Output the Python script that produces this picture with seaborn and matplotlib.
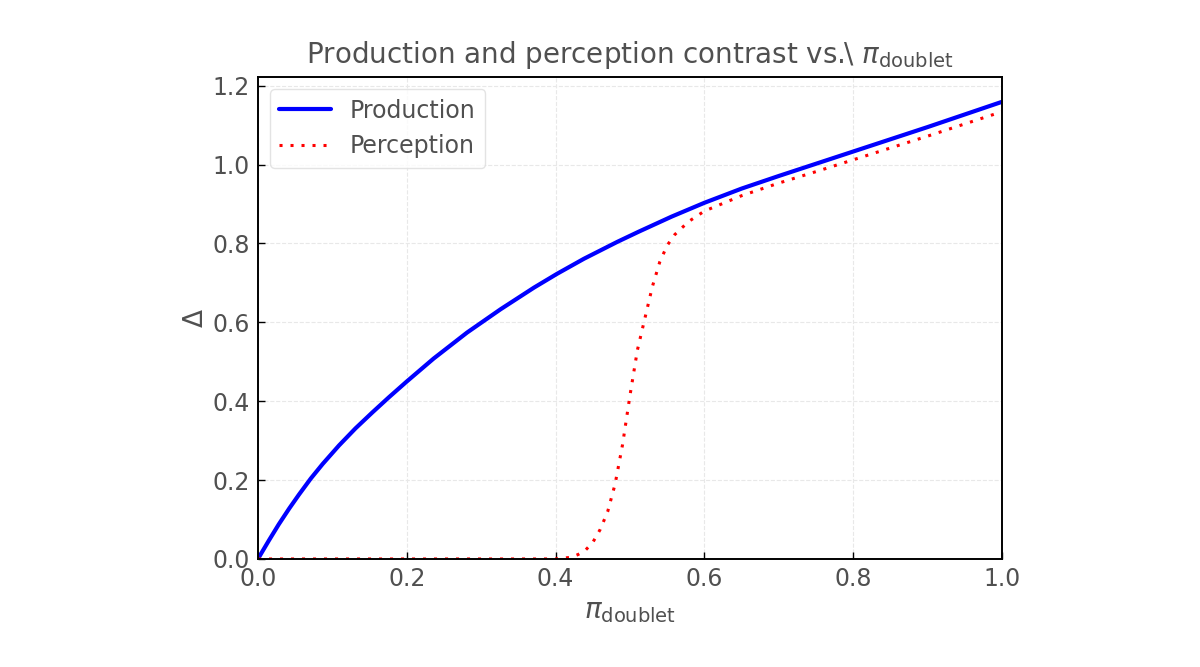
import numpy as np
import pandas as pd
import seaborn as sns
import matplotlib
matplotlib.use("Agg")
from matplotlib import pyplot as plt

# values
prod_x = [0.0, 0.004, 0.015, 0.028, 0.042, 0.055, 0.071, 0.087, 0.109, 0.131, 0.154,
          0.176, 0.2, 0.236, 0.281, 0.326, 0.371, 0.402, 0.438, 0.483, 0.512, 0.556,
          0.6, 0.65, 0.7, 0.75, 0.8, 0.85, 0.9, 0.95, 1.0]
prod_y = [0.0, 0.013, 0.048, 0.088, 0.128, 0.163, 0.204, 0.241, 0.288, 0.331, 0.372,
          0.410, 0.450, 0.508, 0.574, 0.633, 0.688, 0.723, 0.761, 0.804, 0.830, 0.868,
          0.903, 0.939, 0.971, 1.002, 1.033, 1.064, 1.095, 1.127, 1.159]

perc_x = [0.0, 0.1, 0.2, 0.3, 0.4, 0.42, 0.43, 0.44, 0.45, 0.46, 0.47, 0.48, 0.49,
          0.50, 0.51, 0.52, 0.53, 0.54, 0.55, 0.56, 0.57, 0.58, 0.60, 0.65, 0.70,
          0.75, 0.80, 0.85, 0.90, 0.95, 1.0]
perc_y = [0.0, 0.0, 0.0, 0.0, 0.0, 0.004, 0.011, 0.022, 0.042, 0.075, 0.12, 0.19, 0.29,
          0.415, 0.53, 0.61, 0.69, 0.753, 0.795, 0.822, 0.840, 0.857, 0.882, 0.921, 0.953,
          0.982, 1.012, 1.042, 1.072, 1.103, 1.134]

x_ticks = [0.0, 0.2, 0.4, 0.6, 0.8, 1.0]
y_ticks = [0.0, 0.2, 0.4, 0.6, 0.8, 1.0, 1.2]

prod = pd.DataFrame({"pi": prod_x, "delta": prod_y})
perc = pd.DataFrame({"pi": perc_x, "delta": perc_y})

sns.set_theme(style="whitegrid")
plt.rcParams["font.family"] = ["DejaVu Sans"]
text_grey = "#505050"

fig, ax = plt.subplots(figsize=(12, 6.67), dpi=100)
fig.subplots_adjust(left=0.215, right=0.835, top=0.884, bottom=0.162)

sns.lineplot(data=prod, x="pi", y="delta", ax=ax, color="blue", lw=3.0,
             label="Production")
sns.lineplot(data=perc, x="pi", y="delta", ax=ax, color="red", lw=2.2,
             dashes=False, label="Perception")
ax.lines[1].set_dashes((1, 2.6))

ax.set_xlim(0, 1)
ax.set_ylim(0, 1.221)
ax.set_xticks(x_ticks)
ax.set_yticks(y_ticks)
ax.set_xlabel(r"$\pi_{\mathrm{doublet}}$", fontsize=20, color=text_grey, labelpad=4)
ax.set_ylabel(r"$\Delta$", fontsize=19, color=text_grey, labelpad=2)
ax.set_title(r"Production and perception contrast vs.\ $\pi_{\mathrm{doublet}}$",
             fontsize=20, color=text_grey, pad=10)

ax.grid(True, color="#e8e8e8", linestyle="--", linewidth=0.8)
for s in ax.spines.values():
    s.set_color("black")
    s.set_linewidth(1.4)
ax.tick_params(direction="in", length=5, width=1, colors="black", pad=6,
               labelcolor=text_grey, labelsize=17, left=True, bottom=True)

leg = ax.legend(loc="upper left", fontsize=17, frameon=True, handlelength=2.2)
leg.get_frame().set_edgecolor("#dddddd")
leg.legend_handles[1].set_dashes((1, 2.6))
for t in leg.get_texts():
    t.set_color(text_grey)

fig.savefig("out.png", dpi=100)
